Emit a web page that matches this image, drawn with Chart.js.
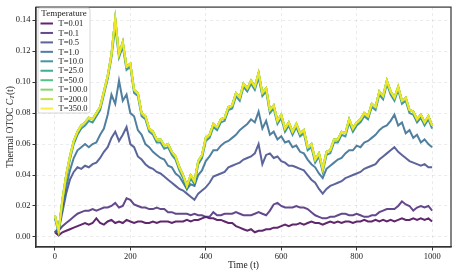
<!DOCTYPE html>
<html>
<head>
<meta charset="utf-8">
<script src="https://cdn.jsdelivr.net/npm/chart.js@4.4.0/dist/chart.umd.min.js"></script>
<style>
  html, body { margin: 0; padding: 0; background: #fff; }
  #wrap { width: 458px; height: 273px; }
</style>
</head>
<body>
<div id="wrap"><canvas id="myChart" width="458" height="273"></canvas></div>
<script>
  // time axis (t), sampled every 10 units
  const timeSteps = [
    0,10,20,30,40,50,60,70,80,90,100,110,120,130,140,150,160,170,180,190,
    200,210,220,230,240,250,260,270,280,290,300,310,320,330,340,350,360,370,380,390,
    400,410,420,430,440,450,460,470,480,490,500,510,520,530,540,550,560,570,580,590,
    600,610,620,630,640,650,660,670,680,690,700,710,720,730,740,750,760,770,780,790,
    800,810,820,830,840,850,860,870,880,890,900,910,920,930,940,950,960,970,980,990,1000
  ];

  const temperatures = ['T=0.01','T=0.1','T=0.5','T=1.0','T=10.0','T=25.0','T=50.0','T=100.0','T=200.0','T=350.0'];
  const colors = ['#440154','#482878','#3e4989','#31688e','#26828e','#1f9e89','#35b779','#6ece58','#b5de2b','#fde725'];

  const otocT001 = [
    0.003,0.001,0.003,0.004,0.005,0.006,0.007,0.008,0.009,0.008,
    0.009,0.012,0.009,0.008,0.010,0.011,0.009,0.010,0.009,0.011,
    0.010,0.009,0.010,0.010,0.009,0.009,0.010,0.009,0.010,0.010,
    0.010,0.009,0.010,0.010,0.010,0.011,0.010,0.011,0.011,0.012,
    0.013,0.012,0.012,0.011,0.011,0.010,0.009,0.009,0.007,0.006,
    0.005,0.004,0.005,0.003,0.004,0.004,0.005,0.005,0.006,0.006,
    0.007,0.008,0.007,0.008,0.008,0.009,0.008,0.009,0.010,0.009,
    0.009,0.008,0.009,0.010,0.009,0.010,0.009,0.010,0.010,0.009,
    0.010,0.010,0.011,0.010,0.010,0.011,0.010,0.011,0.010,0.011,
    0.010,0.011,0.012,0.011,0.011,0.012,0.011,0.012,0.011,0.012,
    0.010
  ];
  const otocT01 = [
    0.003,0.004,0.007,0.009,0.011,0.013,0.015,0.016,0.017,0.017,
    0.018,0.017,0.018,0.019,0.019,0.020,0.022,0.019,0.020,0.025,
    0.024,0.021,0.020,0.019,0.019,0.018,0.018,0.019,0.018,0.018,
    0.016,0.016,0.015,0.015,0.015,0.015,0.014,0.015,0.014,0.014,
    0.013,0.013,0.016,0.014,0.014,0.015,0.015,0.015,0.016,0.015,
    0.014,0.014,0.014,0.015,0.016,0.015,0.014,0.017,0.021,0.022,
    0.020,0.019,0.019,0.019,0.020,0.019,0.019,0.018,0.016,0.014,
    0.013,0.012,0.012,0.013,0.013,0.014,0.015,0.015,0.014,0.014,
    0.015,0.014,0.013,0.013,0.014,0.014,0.016,0.017,0.018,0.018,
    0.018,0.020,0.023,0.021,0.020,0.017,0.019,0.020,0.019,0.020,
    0.017
  ];
  const otocT05 = [
    0.003,0.004,0.016,0.028,0.037,0.042,0.045,0.044,0.046,0.045,
    0.047,0.048,0.051,0.055,0.058,0.064,0.068,0.062,0.066,0.071,
    0.060,0.058,0.052,0.050,0.047,0.045,0.044,0.042,0.041,0.039,
    0.037,0.035,0.033,0.031,0.030,0.028,0.026,0.024,0.028,0.030,
    0.032,0.035,0.039,0.040,0.041,0.042,0.045,0.046,0.047,0.048,
    0.050,0.051,0.052,0.054,0.060,0.047,0.053,0.054,0.051,0.052,
    0.049,0.048,0.046,0.046,0.045,0.044,0.043,0.040,0.037,0.035,
    0.031,0.028,0.031,0.033,0.034,0.035,0.036,0.038,0.039,0.040,
    0.041,0.042,0.044,0.045,0.046,0.047,0.050,0.052,0.054,0.056,
    0.058,0.055,0.053,0.051,0.049,0.048,0.047,0.046,0.047,0.045,
    0.045
  ];
  const otocT1 = [
    0.003,0.006,0.020,0.032,0.043,0.051,0.056,0.058,0.060,0.058,
    0.060,0.061,0.066,0.070,0.079,0.092,0.086,0.101,0.088,0.092,
    0.080,0.078,0.069,0.066,0.060,0.058,0.055,0.053,0.051,0.050,
    0.046,0.045,0.041,0.039,0.035,0.031,0.034,0.033,0.040,0.043,
    0.049,0.052,0.056,0.056,0.059,0.061,0.062,0.064,0.066,0.069,
    0.071,0.073,0.076,0.074,0.081,0.070,0.075,0.066,0.068,0.063,
    0.065,0.061,0.062,0.058,0.059,0.055,0.054,0.050,0.047,0.045,
    0.041,0.038,0.044,0.046,0.048,0.050,0.051,0.054,0.056,0.056,
    0.059,0.058,0.061,0.062,0.064,0.066,0.069,0.071,0.072,0.075,
    0.079,0.072,0.074,0.067,0.069,0.064,0.066,0.061,0.063,0.060,
    0.058
  ];
  const otocT10 = [
    0.012,0.003,0.022,0.038,0.050,0.060,0.066,0.070,0.072,0.075,
    0.074,0.078,0.082,0.092,0.102,0.116,0.136,0.116,0.123,0.108,
    0.110,0.093,0.091,0.078,0.076,0.068,0.066,0.061,0.061,0.057,
    0.058,0.053,0.050,0.043,0.038,0.031,0.038,0.034,0.047,0.051,
    0.062,0.064,0.071,0.069,0.074,0.075,0.082,0.083,0.091,0.088,
    0.097,0.094,0.099,0.095,0.103,0.091,0.094,0.080,0.083,0.073,
    0.077,0.068,0.072,0.066,0.071,0.065,0.067,0.056,0.058,0.048,
    0.052,0.042,0.053,0.054,0.061,0.061,0.066,0.065,0.074,0.068,
    0.072,0.074,0.078,0.076,0.084,0.082,0.092,0.089,0.099,0.092,
    0.088,0.095,0.086,0.088,0.080,0.079,0.074,0.077,0.072,0.076,
    0.070
  ];
  // T >= 25 curves sit on top of each other in the figure
  const otocHot = [
    0.014,0.004,0.024,0.040,0.052,0.062,0.068,0.072,0.074,0.077,
    0.076,0.080,0.084,0.094,0.104,0.118,0.141,0.118,0.126,0.110,
    0.112,0.095,0.093,0.080,0.078,0.070,0.068,0.063,0.063,0.059,
    0.060,0.055,0.052,0.045,0.040,0.033,0.040,0.036,0.049,0.053,
    0.064,0.066,0.073,0.071,0.076,0.077,0.084,0.085,0.093,0.090,
    0.099,0.096,0.101,0.097,0.106,0.093,0.096,0.082,0.085,0.075,
    0.079,0.070,0.074,0.068,0.073,0.067,0.069,0.058,0.060,0.050,
    0.054,0.044,0.055,0.056,0.063,0.063,0.068,0.067,0.076,0.070,
    0.074,0.076,0.080,0.078,0.086,0.084,0.094,0.091,0.101,0.094,
    0.090,0.097,0.088,0.090,0.082,0.081,0.076,0.079,0.074,0.078,
    0.072
  ];

  const seriesValues = [otocT001, otocT01, otocT05, otocT1, otocT10, otocHot, otocHot, otocHot, otocHot, otocHot];

  const xTicks = [0, 200, 400, 600, 800, 1000];
  const yTicks = [0.00, 0.02, 0.04, 0.06, 0.08, 0.10, 0.12, 0.14];

  const SERIF = '"Liberation Serif", "Times New Roman", serif';

  function hexA(hex, a) {
    const n = parseInt(hex.slice(1), 16);
    return `rgba(${(n >> 16) & 255}, ${(n >> 8) & 255}, ${n & 255}, ${a})`;
  }

  const datasets = [];
  for (let i = 0; i < temperatures.length; i++) {
    datasets.push({
      label: temperatures[i],
      data: timeSteps.map((t, k) => ({ x: t, y: seriesValues[i][k] })),
      borderColor: hexA(colors[i], 0.85),
      borderWidth: 2,
      pointRadius: 0,
      tension: 0,
      order: temperatures.length - 1 - i   // last series drawn on top
    });
  }

  // frame, legend and y title
  const extras = {
    id: 'extras',
    afterDraw(chart) {
      const ctx = chart.ctx;
      const a = chart.chartArea;
      ctx.save();
      ctx.strokeStyle = '#333';
      ctx.lineWidth = 1.2;
      ctx.strokeRect(a.left, a.top, a.right - a.left, a.bottom - a.top);

      // legend box
      const lx = 38, ly = 8, lw = 52, lh = 105, r = 2;
      ctx.beginPath();
      ctx.moveTo(lx + r, ly);
      ctx.arcTo(lx + lw, ly, lx + lw, ly + lh, r);
      ctx.arcTo(lx + lw, ly + lh, lx, ly + lh, r);
      ctx.arcTo(lx, ly + lh, lx, ly, r);
      ctx.arcTo(lx, ly, lx + lw, ly, r);
      ctx.closePath();
      ctx.fillStyle = 'rgba(255,255,255,0.85)';
      ctx.fill();
      ctx.strokeStyle = '#cccccc';
      ctx.lineWidth = 0.8;
      ctx.stroke();

      ctx.fillStyle = '#222';
      ctx.font = '9px ' + SERIF;
      ctx.textAlign = 'center';
      ctx.textBaseline = 'middle';
      ctx.fillText('Temperature', lx + lw / 2, 14);

      ctx.font = '8.5px ' + SERIF;
      ctx.textAlign = 'left';
      for (let i = 0; i < temperatures.length; i++) {
        const y = 23.5 + 9.45 * i;
        ctx.strokeStyle = hexA(colors[i], 0.85);
        ctx.lineWidth = 2;
        ctx.beginPath();
        ctx.moveTo(40.5, y);
        ctx.lineTo(53, y);
        ctx.stroke();
        ctx.fillText(temperatures[i], 58.5, y + 0.5);
      }

      // y axis title: Thermal OTOC C_T(t)
      ctx.translate(10, (a.top + a.bottom) / 2);
      ctx.rotate(-Math.PI / 2);
      const fMain = '9.5px ' + SERIF, fIt = 'italic 9.5px ' + SERIF, fSub = 'italic 7px ' + SERIF;
      const parts = [['Thermal OTOC ', fMain, 0], ['C', fIt, 0], ['T', fSub, 2], ['(t)', fMain, 0]];
      let total = 0;
      parts.forEach(p => { ctx.font = p[1]; total += ctx.measureText(p[0]).width; });
      let x = -total / 2;
      ctx.textBaseline = 'middle';
      ctx.fillStyle = '#222';
      parts.forEach(p => {
        ctx.font = p[1];
        ctx.fillText(p[0], x, p[2]);
        x += ctx.measureText(p[0]).width;
      });
      ctx.restore();
    }
  };

  const gridOpts = {
    color: 'rgba(0,0,0,0.10)',
    lineWidth: 0.8,
    tickLength: 3.5,
    tickColor: '#333',
    tickWidth: 1,
    tickBorderDash: []
  };

  var canvas = document.getElementById('myChart');
  var setup = {
    type: 'line',
    data: { datasets: datasets },
    options: {
      responsive: false,
      animation: false,
      devicePixelRatio: 1,
      layout: { padding: { top: 4, right: 7, left: 0, bottom: 0 } },
      plugins: {
        legend: { display: false },
        tooltip: { enabled: false }
      },
      scales: {
        x: {
          type: 'linear',
          min: -50,
          max: 1050,
          afterBuildTicks: s => { s.ticks = xTicks.map(v => ({ value: v })); },
          afterFit: s => { s.height = 26; },
          ticks: { font: { family: SERIF, size: 8.5 }, color: '#222', padding: 1, maxRotation: 0, callback: v => String(v) },
          grid: gridOpts,
          border: { color: '#333', width: 1.2, dash: [3, 3] },
          title: { display: true, text: 'Time (t)', font: { family: SERIF, size: 9.5 }, color: '#222', padding: { top: 0, bottom: 2 } }
        },
        y: {
          min: -0.0065,
          max: 0.1485,
          afterBuildTicks: s => { s.ticks = yTicks.map(v => ({ value: v })); },
          afterFit: s => { s.width = 36; },
          ticks: { font: { family: SERIF, size: 8.5 }, color: '#222', padding: 2, callback: v => v.toFixed(2) },
          grid: gridOpts,
          border: { color: '#333', width: 1.2, dash: [3, 3] }
        }
      }
    },
    plugins: [extras]
  };
  chart = new Chart(canvas, setup);
</script>
</body>
</html>
